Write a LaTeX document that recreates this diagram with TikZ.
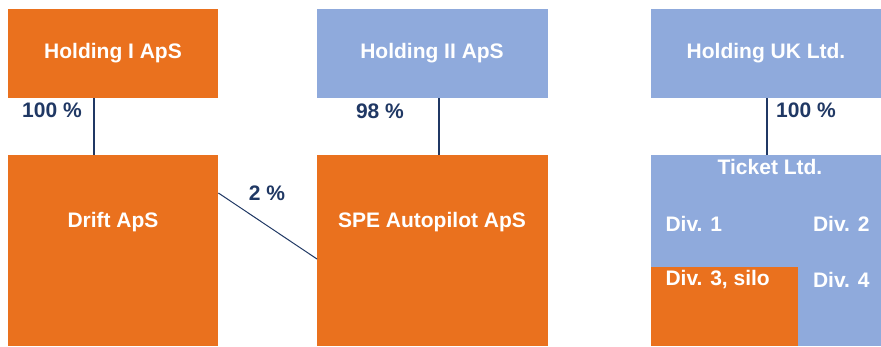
\documentclass[tikz,border=0pt]{standalone}
\usepackage{fontspec}
\setmainfont{Liberation Sans}
\usetikzlibrary{positioning}

\definecolor{boxorange}{HTML}{EA711E}
\definecolor{boxblue}{HTML}{8FAADC}
\definecolor{linknavy}{HTML}{203864}

\begin{document}
\begin{tikzpicture}[x=1pt, y=-1pt,
  every node/.style={font=\fontsize{21}{25}\selectfont\bfseries},
  firm/.style={rectangle, inner sep=0pt, anchor=north west, text=white},
  firmtext/.style={text=white},
  share/.style={text=linknavy},
  link/.style={draw=linknavy, line width=1.6pt}]

  \useasboundingbox (0,0) rectangle (881,346);

  % Top row: holding companies
  \node[firm, fill=boxorange, minimum width=210pt, minimum height=89pt] (hold1) at (8,9) {};
  \node[firm, fill=boxblue, minimum width=231pt, minimum height=89pt] (hold2) at (317,9) {};
  \node[firm, fill=boxblue, minimum width=230pt, minimum height=89pt] (holduk) at (651,9) {};
  \node[firmtext] (hold1txt) at (113,53) {Holding I ApS};
  \node[firmtext] (hold2txt) at (432,53) {Holding II ApS};
  \node[firmtext] (holduktxt) at (766,53) {Holding UK Ltd.};

  % Bottom row: subsidiaries
  \node[firm, fill=boxorange, minimum width=210pt, minimum height=191pt] (drift) at (8,155) {};
  \node[firm, fill=boxorange, minimum width=231pt, minimum height=191pt] (spe) at (317,155) {};
  \node[firm, fill=boxblue, minimum width=230pt, minimum height=191pt] (ticket) at (651,155) {};
  \node[firmtext] (drifttxt) at (113,222) {Drift ApS};
  \node[firmtext] (spetxt) at (432,222) {SPE Autopilot ApS};

  % Ticket Ltd. divisions
  \node[firm, fill=boxorange, minimum width=147pt, minimum height=79pt] (div3box) at (651,267) {};
  \node[firmtext] (tickettxt) at (770,167) {Ticket Ltd.};
  \node[firmtext, anchor=west] (div1) at (662,224) {Div. 1};
  \node[firmtext, anchor=east] (div2) at (873,224) {Div. 2};
  \node[firmtext, anchor=west] (div3) at (662,280) {Div. 3, silo};
  \node[firmtext, anchor=east] (div4) at (873,280) {Div. 4};

  % Ownership lines
  \draw[link] ([xshift=86pt]hold1.south west) -- ([xshift=86pt]drift.north west);
  \draw[link] ([xshift=122pt]hold2.south west) -- ([xshift=122pt]spe.north west);
  \draw[link] ([xshift=116pt]holduk.south west) -- ([xshift=116pt]ticket.north west);
  \draw[draw=linknavy, line width=1pt] ([yshift=-38pt]drift.north east) -- ([yshift=-104pt]spe.north west);

  % Share labels
  \node[share] (p1) at (52,110) {100 \%};
  \node[share] (p2) at (380,111) {98 \%};
  \node[share] (p3) at (806,110) {100 \%};
  \node[share] (p4) at (267,193) {2 \%};

\end{tikzpicture}
\end{document}
